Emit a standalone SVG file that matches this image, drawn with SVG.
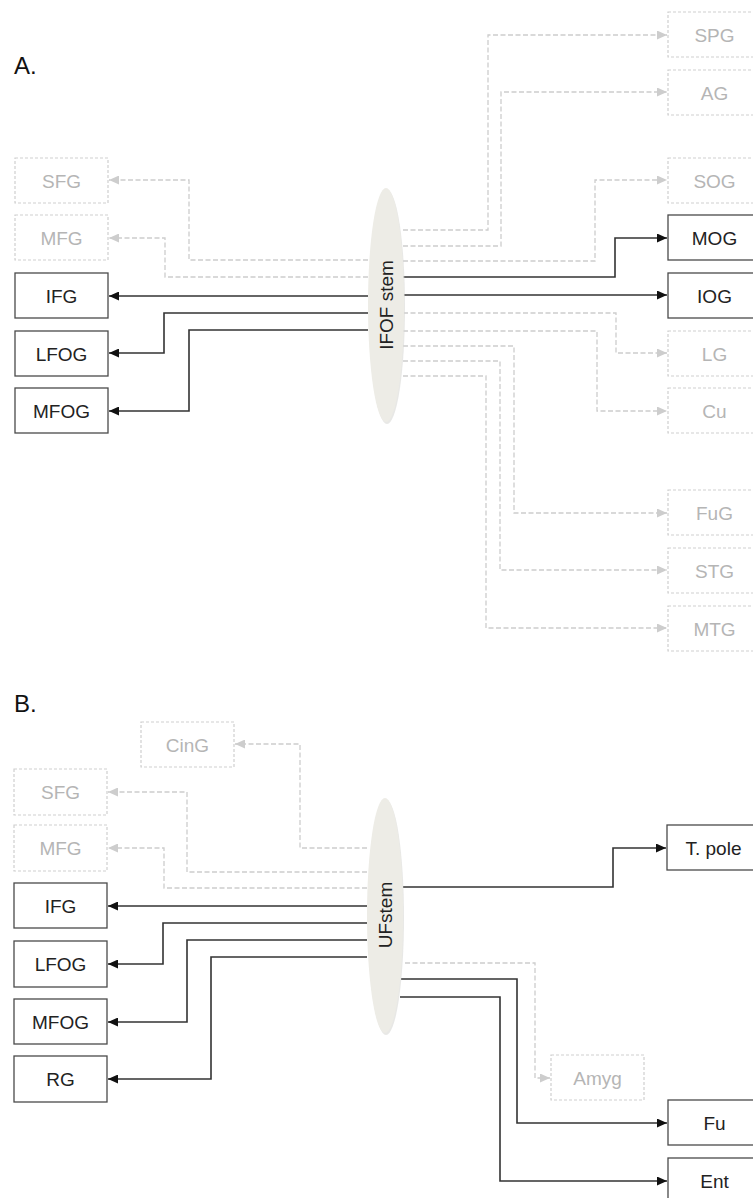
<svg xmlns="http://www.w3.org/2000/svg" width="753" height="1198" viewBox="0 0 753 1198">
<style>
.lbl{font-family:"Liberation Sans",Arial,sans-serif;font-size:24px;fill:#111}
.bx rect{fill:#fff;stroke:#4a4a4a;stroke-width:1.3}
.bx text{font-family:"Liberation Sans",Arial,sans-serif;font-size:19px;fill:#222;text-anchor:middle}
.gb rect{fill:#fff;stroke:#cfcfcf;stroke-width:1.2;stroke-dasharray:3 2}
.gb text{font-family:"Liberation Sans",Arial,sans-serif;font-size:19px;fill:#b5b5b5;text-anchor:middle}
.st ellipse.f{fill:#edece6}
.st ellipse.s{fill:#d9d9d5;opacity:0.6}
.st text{font-family:"Liberation Sans",Arial,sans-serif;font-size:19px;fill:#222;text-anchor:middle}
.c{fill:none;stroke:#333;stroke-width:1.6;marker-end:url(#ab)}
.d{fill:none;stroke:#cdcdcd;stroke-width:1.3;stroke-dasharray:5 2.5;marker-end:url(#ag)}
</style>
<defs>
<marker id="ab" markerUnits="userSpaceOnUse" markerWidth="10" markerHeight="9" refX="10" refY="4.5" orient="auto"><path d="M0,0 L10,4.5 L0,9 z" fill="#111"/></marker>
<marker id="ag" markerUnits="userSpaceOnUse" markerWidth="10" markerHeight="9" refX="10" refY="4.5" orient="auto"><path d="M0,0 L10,4.5 L0,9 z" fill="#cdcdcd"/></marker>
</defs>
<rect width="753" height="1198" fill="#fff"/>
<text class="lbl" x="14" y="74">A.</text>
<text class="lbl" x="14" y="712">B.</text>

<g id="connectors">
<!-- A left -->
<path class="d" d="M368,260 H189 V180 H109"/>
<path class="d" d="M368,277 H165 V238 H109"/>
<path class="c" d="M368,296 H109"/>
<path class="c" d="M368,313 H164 V353 H109"/>
<path class="c" d="M368,330 H189 V411 H109"/>
<!-- A right -->
<path class="d" d="M403,230 H488 V35 H667"/>
<path class="d" d="M403,246 H501 V92 H667"/>
<path class="d" d="M403,261 H595 V180 H667"/>
<path class="c" d="M403,277 H615 V238 H667"/>
<path class="c" d="M403,295 H667"/>
<path class="d" d="M403,313 H616 V353 H667"/>
<path class="d" d="M403,331 H597 V411 H667"/>
<path class="d" d="M403,346 H514 V513 H667"/>
<path class="d" d="M403,361 H500 V570 H667"/>
<path class="d" d="M403,376 H486 V628 H667"/>
<!-- B left -->
<path class="d" d="M367,848 H300 V744 H235"/>
<path class="d" d="M367,872 H187 V792 H108"/>
<path class="d" d="M367,888 H164 V848 H108"/>
<path class="c" d="M367,906 H108"/>
<path class="c" d="M367,923 H163 V964 H108"/>
<path class="c" d="M367,940 H187 V1022 H108"/>
<path class="c" d="M367,957 H211 V1079 H108"/>
<!-- B right -->
<path class="c" d="M403,887 H613 V848 H666"/>
<path class="d" d="M405,963 H535 V1078 H550"/>
<path class="c" d="M401,979 H517 V1123 H667"/>
<path class="c" d="M400,997 H500 V1181 H667"/>
</g>

<g id="ifof-stem" class="st">
<ellipse class="s" cx="387" cy="307" rx="18" ry="117"/>
<ellipse class="f" cx="386" cy="305" rx="18" ry="117"/>
<text transform="translate(393,305) rotate(-90)">IFOF stem</text>
</g>
<g id="uf-stem" class="st">
<ellipse class="s" cx="386" cy="917.5" rx="18" ry="117.5"/>
<ellipse class="f" cx="385" cy="915.5" rx="18" ry="117.5"/>
<text transform="translate(392,915) rotate(-90)">UFstem</text>
</g>

<!-- A left nodes -->
<g id="a-sfg" class="gb"><rect x="15" y="158" width="93" height="45"/><text x="61.5" y="187.5">SFG</text></g>
<g id="a-mfg" class="gb"><rect x="15" y="215" width="93" height="45"/><text x="61.5" y="244.5">MFG</text></g>
<g id="a-ifg" class="bx"><rect x="15" y="273" width="93" height="45"/><text x="61.5" y="302.5">IFG</text></g>
<g id="a-lfog" class="bx"><rect x="15" y="331" width="93" height="45"/><text x="61.5" y="360.5">LFOG</text></g>
<g id="a-mfog" class="bx"><rect x="15" y="388" width="93" height="45"/><text x="61.5" y="417.5">MFOG</text></g>
<!-- A right nodes -->
<g id="a-spg" class="gb"><rect x="668" y="12" width="93" height="45"/><text x="714.5" y="41.5">SPG</text></g>
<g id="a-ag" class="gb"><rect x="668" y="70" width="93" height="45"/><text x="714.5" y="99.5">AG</text></g>
<g id="a-sog" class="gb"><rect x="668" y="158" width="93" height="45"/><text x="714.5" y="187.5">SOG</text></g>
<g id="a-mog" class="bx"><rect x="668" y="215" width="93" height="45"/><text x="714.5" y="244.5">MOG</text></g>
<g id="a-iog" class="bx"><rect x="668" y="273" width="93" height="45"/><text x="714.5" y="302.5">IOG</text></g>
<g id="a-lg" class="gb"><rect x="668" y="331" width="93" height="45"/><text x="714.5" y="360.5">LG</text></g>
<g id="a-cu" class="gb"><rect x="668" y="388" width="93" height="45"/><text x="714.5" y="417.5">Cu</text></g>
<g id="a-fug" class="gb"><rect x="668" y="490" width="93" height="45"/><text x="714.5" y="519.5">FuG</text></g>
<g id="a-stg" class="gb"><rect x="668" y="548" width="93" height="45"/><text x="714.5" y="577.5">STG</text></g>
<g id="a-mtg" class="gb"><rect x="668" y="606" width="93" height="45"/><text x="714.5" y="635.5">MTG</text></g>

<!-- B left nodes -->
<g id="b-cing" class="gb"><rect x="141" y="722" width="93" height="45"/><text x="187.5" y="751.5">CinG</text></g>
<g id="b-sfg" class="gb"><rect x="14" y="769" width="93" height="46"/><text x="60.5" y="799">SFG</text></g>
<g id="b-mfg" class="gb"><rect x="14" y="825" width="93" height="46"/><text x="60.5" y="855">MFG</text></g>
<g id="b-ifg" class="bx"><rect x="14" y="883" width="93" height="45"/><text x="60.5" y="912.5">IFG</text></g>
<g id="b-lfog" class="bx"><rect x="14" y="941" width="93" height="46"/><text x="60.5" y="971">LFOG</text></g>
<g id="b-mfog" class="bx"><rect x="14" y="999" width="93" height="45"/><text x="60.5" y="1028.5">MFOG</text></g>
<g id="b-rg" class="bx"><rect x="14" y="1056" width="93" height="46"/><text x="60.5" y="1086">RG</text></g>
<!-- B right nodes -->
<g id="b-tpole" class="bx"><rect x="667" y="825" width="93" height="45"/><text x="713.5" y="854.5">T. pole</text></g>
<g id="b-amyg" class="gb"><rect x="551" y="1055" width="93" height="45"/><text x="597.5" y="1084.5">Amyg</text></g>
<g id="b-fu" class="bx"><rect x="668" y="1100" width="93" height="45"/><text x="714.5" y="1129.5">Fu</text></g>
<g id="b-ent" class="bx"><rect x="668" y="1158" width="93" height="45"/><text x="714.5" y="1187.5">Ent</text></g>
</svg>
